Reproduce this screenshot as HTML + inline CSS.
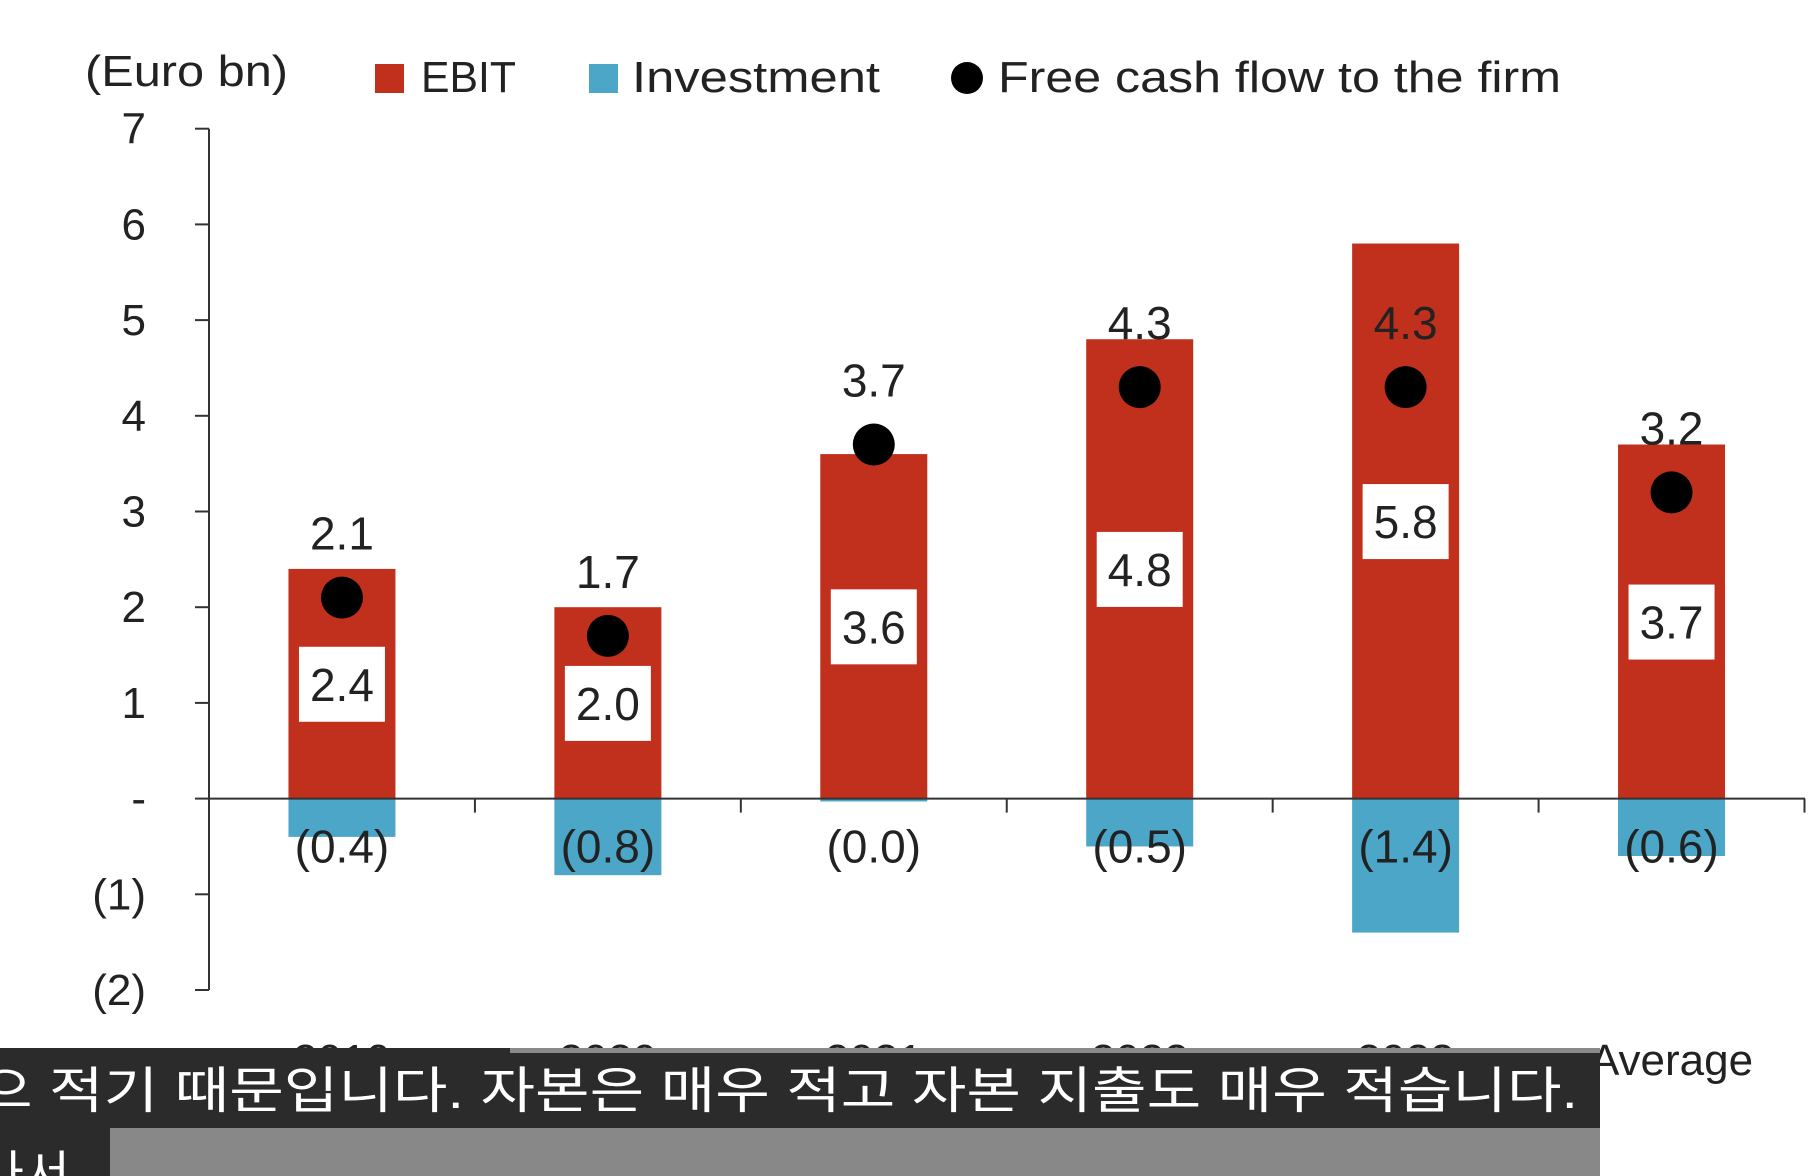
<!DOCTYPE html>
<html><head><meta charset="utf-8">
<style>
html,body{margin:0;padding:0;background:#fff;width:1820px;height:1176px;overflow:hidden}
svg{display:block}
text{font-family:"Liberation Sans",sans-serif;fill:#222}
.sub{font-family:"Liberation Sans","Noto Sans CJK KR",sans-serif;fill:#fff;font-size:50px}
</style></head>
<body>
<svg id="chart" width="1820" height="1176" viewBox="0 0 1820 1176">
  <g id="legend">
    <text x="85" y="86" font-size="44" textLength="203" lengthAdjust="spacingAndGlyphs">(Euro bn)</text>
    <g>
      <rect x="375" y="64" width="29" height="29" fill="#c0301c"/>
      <text x="421" y="92" font-size="44" textLength="95" lengthAdjust="spacingAndGlyphs">EBIT</text>
    </g>
    <g>
      <rect x="589" y="64" width="29" height="29" fill="#4ba6c8"/>
      <text x="632" y="92" font-size="44" textLength="248" lengthAdjust="spacingAndGlyphs">Investment</text>
    </g>
    <g>
      <circle cx="967" cy="78" r="16" fill="#000"/>
      <text x="998" y="92" font-size="44" textLength="563" lengthAdjust="spacingAndGlyphs">Free cash flow to the firm</text>
    </g>
  </g>
  <g id="axes"></g>
  <g id="bars"></g>
  <g id="labels"></g>
  <g>
    <rect x="0" y="1048" width="1600" height="82" fill="#2b2b2b"/>
    <rect x="510" y="1048" width="1090" height="5" fill="#8a8a8a"/>
    <rect x="0" y="1128" width="110" height="48" fill="#2b2b2b"/>
    <rect x="110" y="1128" width="1490" height="48" fill="#888"/>
    <text class="sub" x="-22" y="1108" textLength="1600" lengthAdjust="spacingAndGlyphs">으 적기 때문입니다. 자본은 매우 적고 자본 지출도 매우 적습니다.</text>
    <text class="sub" x="-22" y="1192">나서</text>
  </g>
</svg>
<script>
const categories = ["2019","2020","2021","2022","2023","Average"];
const ebit = [2.4, 2.0, 3.6, 4.8, 5.8, 3.7];
const investment = [-0.4, -0.8, -0.03, -0.5, -1.4, -0.6];
const investmentLabels = ["(0.4)","(0.8)","(0.0)","(0.5)","(1.4)","(0.6)"];
const fcf = [2.1, 1.7, 3.7, 4.3, 4.3, 3.2];
const yTicks = [7,6,5,4,3,2,1,0,-1,-2];
const yTickLabels = ["7","6","5","4","3","2","1","-","(1)","(2)"];

const NS = "http://www.w3.org/2000/svg";
const X0 = 209, X1 = 1805, Y0 = 798.6, UNIT = 95.7;
const band = (X1 - X0 - 0.5) / categories.length;
function y(v){ return Y0 - v*UNIT; }
function xc(i){ return X0 + band*(i+0.5); }
function mk(tag, attrs, parent){ const e=document.createElementNS(NS,tag); for(const k in attrs) e.setAttribute(k,attrs[k]); parent.appendChild(e); return e; }
const axes=document.getElementById('axes'), bars=document.getElementById('bars'), labels=document.getElementById('labels');

let yAx = mk('line',{x1:X0,x2:X0,y1:y(7),y2:y(-2),stroke:'#333','stroke-width':2},axes);


yTicks.forEach((t,i)=>{
  mk('line',{x1:X0-14,x2:X0,y1:y(t),y2:y(t),stroke:'#333','stroke-width':2},axes);
  const tx = mk('text',{x:146,y:y(t)+15,'font-size':44,'text-anchor':'end'},axes);
  tx.textContent = yTickLabels[i];
  
  
});

categories.forEach((c,i)=>{
  const cx = xc(i), w = 107;
  const r = mk('rect',{x:cx-w/2,y:y(ebit[i]),width:w,height:ebit[i]*UNIT,fill:'#c0301c'},bars);
  
  
  const b = mk('rect',{x:cx-w/2,y:Y0,width:w,height:-investment[i]*UNIT,fill:'#4ba6c8'},bars);
  
  
  // ebit label box
  const my = y(ebit[i]/2);
  mk('rect',{x:cx-43,y:my-37,width:86,height:75,fill:'#fff'},labels);
  const el = mk('text',{x:cx,y:my+17,'font-size':46,'text-anchor':'middle'},labels);
  el.textContent = ebit[i].toFixed(1);
  
  
  const il = mk('text',{x:cx,y:Y0+64,'font-size':46,'text-anchor':'middle'},labels);
  il.textContent = investmentLabels[i];
  
  
  const d = mk('circle',{cx:cx,cy:y(fcf[i]),r:21,fill:'#000'},labels);
  
  
  const fl = mk('text',{x:cx,y:y(fcf[i])-48,'font-size':46,'text-anchor':'middle'},labels);
  fl.textContent = fcf[i].toFixed(1);
  
  
  const xl = mk('text',{x:cx,y:1075,'font-size':44,'text-anchor':'middle'},axes);
  xl.textContent = c;
  
  
});
for(let i=0;i<=categories.length;i++){
  mk('line',{x1:X0+band*i,x2:X0+band*i,y1:Y0,y2:Y0+14,stroke:'#333','stroke-width':2},axes);
}
const xAx = mk('line',{x1:X0,x2:X1,y1:Y0,y2:Y0,stroke:'#333','stroke-width':2},labels);


</script>
</body></html>
